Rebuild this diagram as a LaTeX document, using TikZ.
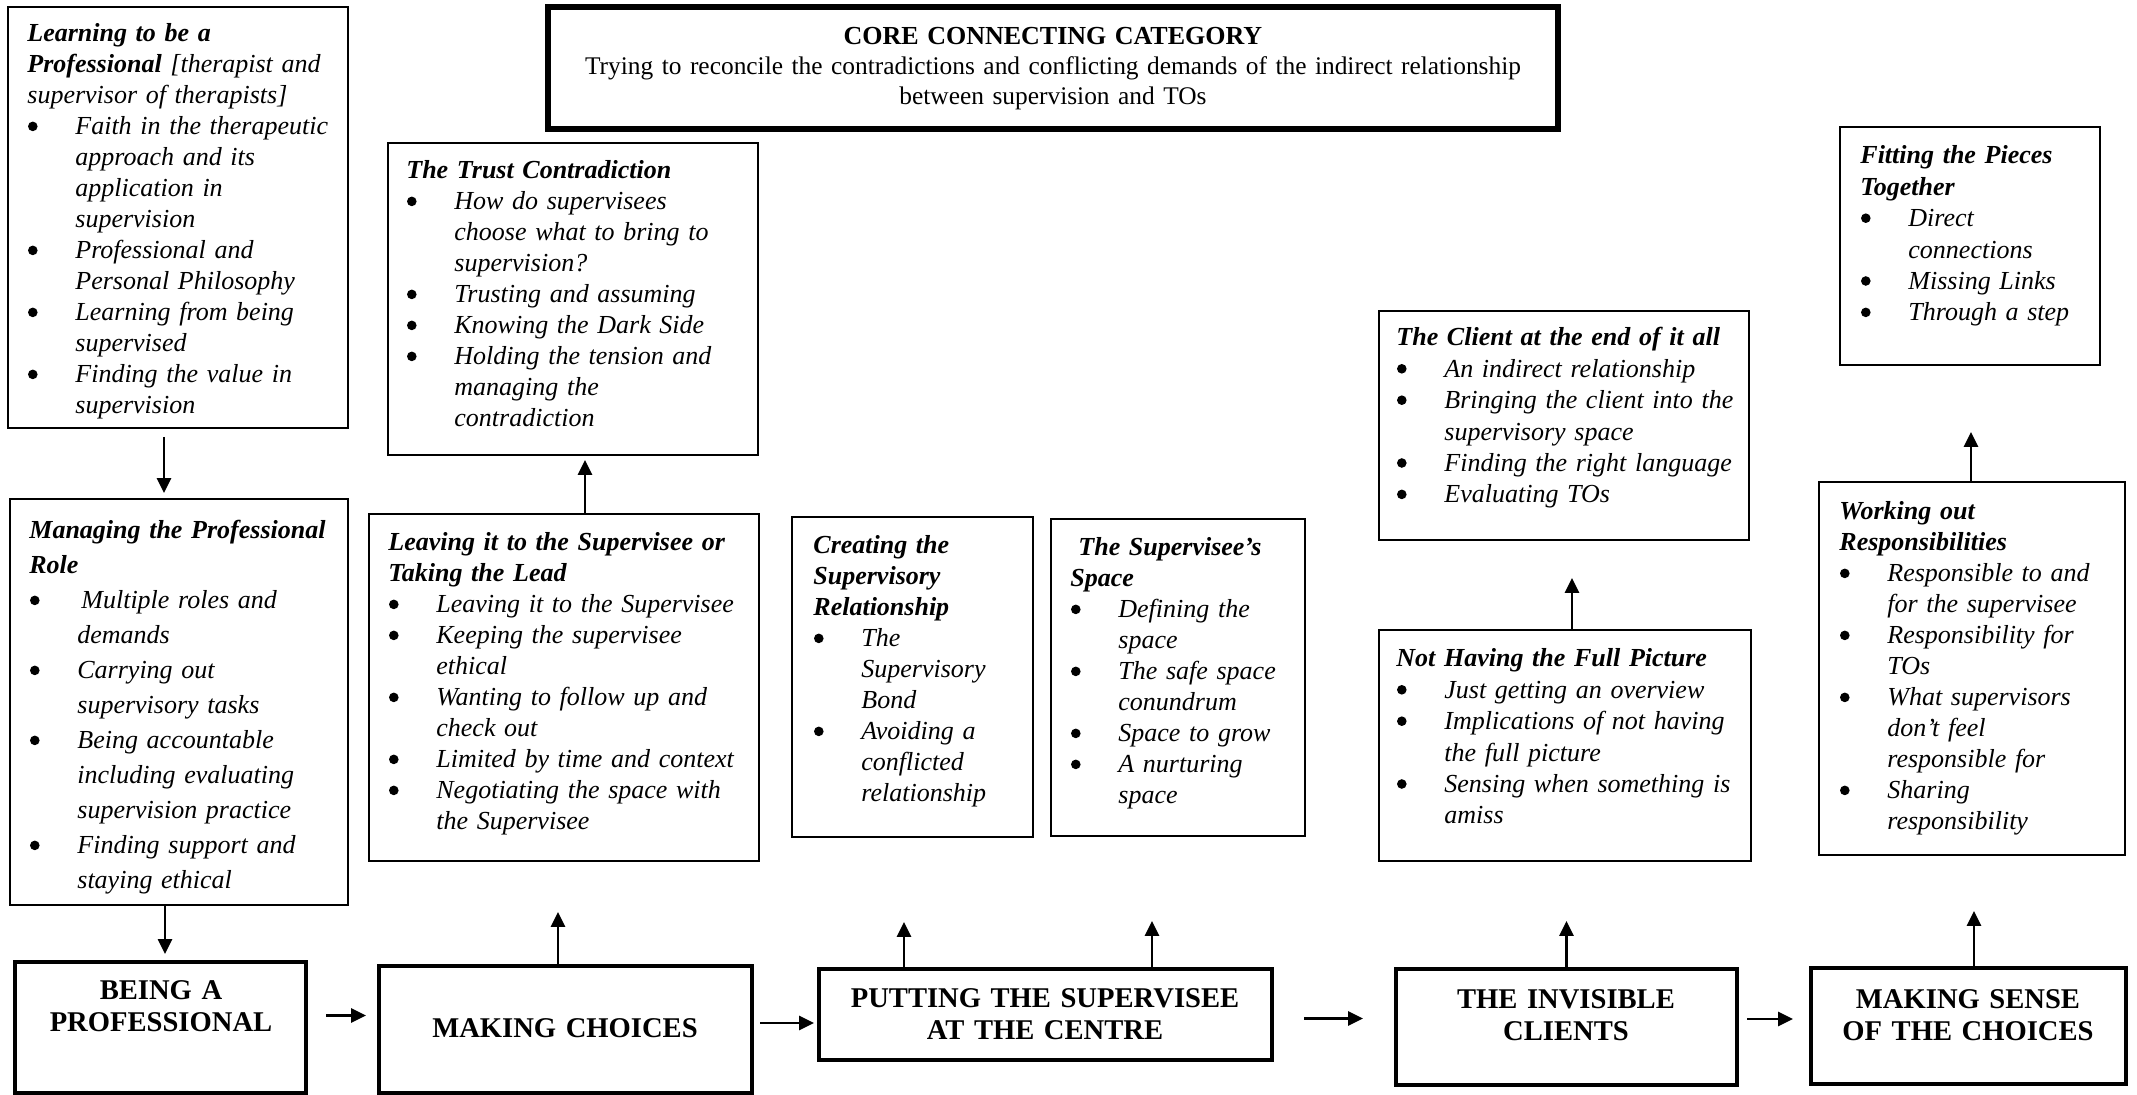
\documentclass[tikz,border=0pt]{standalone}
\usepackage{fontspec}
\setmainfont{Liberation Serif}
\usetikzlibrary{fit,arrows.meta}

% round list marker, drawn as a filled dot sitting at mid x-height
\newcommand\dotmark{\tikz[baseline={(0pt,-4.3pt)}]\fill (0pt,0pt) circle (2.4pt);}
% bullet and continuation indents for the category lists
\newcommand\bul{\hspace*{0.3pt}\makebox[23.7pt][l]{\dotmark}}
\newcommand\cnt{\hspace*{24pt}}

\tikzset{
  thinbox/.style={draw, line width=0.9pt, inner sep=0pt},
  thickbox/.style={draw, line width=2pt, inner sep=0pt},
  corebox/.style={draw, line width=2.6pt, inner sep=0pt},
  listtext/.style={inner sep=0pt, anchor=base west, align=left,
    font=\fontsize{13}{15.5}\selectfont\itshape},
  widelist/.style={listtext, font=\fontsize{13}{15.7}\selectfont\itshape},
  stagetext/.style={inner sep=0pt, anchor=base, align=center,
    font=\fontsize{14.3}{16.2}\selectfont\bfseries},
  arr/.style={line width=1.3pt, -{Triangle[length=7.5pt,width=7pt]}}
}

\begin{document}
\begin{tikzpicture}[x=0.5pt,y=-0.5pt]
\useasboundingbox (0,0) rectangle (2137,1095);

% ---------- boxes ----------
\node[thinbox, fit={(8,7)(348,428)}] (learn) {};
\node[thinbox, fit={(10,499)(348,905)}] (manage) {};
\node[thickbox, fit={(15,962)(306,1093)}] (being) {};

\node[corebox, fit={(548,7)(1558,129)}] (core) {};

\node[thinbox, fit={(388,143)(758,455)}] (trust) {};
\node[thinbox, fit={(369,514)(759,861)}] (leaving) {};
\node[thickbox, fit={(379,966)(752,1093)}] (making) {};

\node[thinbox, fit={(792,517)(1033,837)}] (creating) {};
\node[thinbox, fit={(1051,519)(1305,836)}] (svspace) {};
\node[thickbox, fit={(819,969)(1272,1060)}] (putting) {};

\node[thinbox, fit={(1379,311)(1749,540)}] (client) {};
\node[thinbox, fit={(1379,630)(1751,861)}] (nothaving) {};
\node[thickbox, fit={(1396,969)(1737,1085)}] (invisible) {};

\node[thinbox, fit={(1840,127)(2100,365)}] (fitting) {};
\node[thinbox, fit={(1819,482)(2125,855)}] (working) {};
\node[thickbox, fit={(1811,968)(2126,1084)}] (sense) {};

% ---------- core category ----------
\node[inner sep=0pt, anchor=base, align=center, text width=500pt,
      font=\fontsize{12.7}{15}\selectfont] (coreT) at (1053,45)
  {{\fontsize{13}{15}\selectfont\bfseries CORE CONNECTING CATEGORY}\\
   Trying to reconcile the contradictions and conflicting demands of the indirect relationship\\
   between supervision and TOs};

% ---------- category lists ----------
\node[listtext, text width=160pt] (learnT) at (27,42)
  {{\bfseries Learning to be a}\\
   {\bfseries Professional} [therapist and\\
   supervisor of therapists]\\
   \bul Faith in the therapeutic\\
   \cnt approach and its\\
   \cnt application in\\
   \cnt supervision\\
   \bul Professional and\\
   \cnt Personal Philosophy\\
   \bul Learning from being\\
   \cnt supervised\\
   \bul Finding the value in\\
   \cnt supervision};

\node[listtext, text width=159pt, font=\fontsize{13}{17.5}\selectfont\itshape] (manageT) at (29,539)
  {{\bfseries Managing the Professional}\\
   {\bfseries Role}\\
   \bul \hspace*{2pt}Multiple roles and\\
   \cnt demands\\
   \bul Carrying out\\
   \cnt supervisory tasks\\
   \bul Being accountable\\
   \cnt including evaluating\\
   \cnt supervision practice\\
   \bul Finding support and\\
   \cnt staying ethical};

\node[listtext, text width=175pt] (trustT) at (406,179)
  {{\bfseries The Trust Contradiction}\\
   \bul How do supervisees\\
   \cnt choose what to bring to\\
   \cnt supervision?\\
   \bul Trusting and assuming\\
   \bul Knowing the Dark Side\\
   \bul Holding the tension and\\
   \cnt managing the\\
   \cnt contradiction};

\node[listtext, text width=185pt] (leavingT) at (388,551)
  {{\bfseries Leaving it to the Supervisee or}\\
   {\bfseries Taking the Lead}\\
   \bul Leaving it to the Supervisee\\
   \bul Keeping the supervisee\\
   \cnt ethical\\
   \bul Wanting to follow up and\\
   \cnt check out\\
   \bul Limited by time and context\\
   \bul Negotiating the space with\\
   \cnt the Supervisee};

\node[listtext, text width=110pt] (creatingT) at (813,554)
  {{\bfseries Creating the}\\
   {\bfseries Supervisory}\\
   {\bfseries Relationship}\\
   \bul The\\
   \cnt Supervisory\\
   \cnt Bond\\
   \bul Avoiding a\\
   \cnt conflicted\\
   \cnt relationship};

\node[listtext, text width=117pt] (svspaceT) at (1070,556)
  {{\bfseries \hspace*{4pt}The Supervisee’s}\\
   {\bfseries Space}\\
   \bul Defining the\\
   \cnt space\\
   \bul The safe space\\
   \cnt conundrum\\
   \bul Space to grow\\
   \bul A nurturing\\
   \cnt space};

\node[widelist, text width=177pt] (clientT) at (1396,346)
  {{\bfseries The Client at the end of it all}\\
   \bul An indirect relationship\\
   \bul Bringing the client into the\\
   \cnt supervisory space\\
   \bul Finding the right language\\
   \bul Evaluating TOs};

\node[widelist, text width=178pt] (nothavingT) at (1396,667)
  {{\bfseries Not Having the Full Picture}\\
   \bul Just getting an overview\\
   \bul Implications of not having\\
   \cnt the full picture\\
   \bul Sensing when something is\\
   \cnt amiss};

\node[listtext, text width=143pt] (workingT) at (1839,520)
  {{\bfseries Working out}\\
   {\bfseries Responsibilities}\\
   \bul Responsible to and\\
   \cnt for the supervisee\\
   \bul Responsibility for\\
   \cnt TOs\\
   \bul What supervisors\\
   \cnt don’t feel\\
   \cnt responsible for\\
   \bul Sharing\\
   \cnt responsibility};

\node[widelist, text width=120pt] (fittingT) at (1860,164)
  {{\bfseries Fitting the Pieces}\\
   {\bfseries Together}\\
   \bul Direct\\
   \cnt connections\\
   \bul Missing Links\\
   \bul Through a step};

% ---------- stage labels ----------
\node[stagetext, text width=140pt] (beingT) at (161,999) {BEING A\\PROFESSIONAL};
\node[stagetext, text width=180pt] (makingT) at (565,1037) {MAKING CHOICES};
\node[stagetext, text width=215pt] (puttingT) at (1045,1007) {PUTTING THE SUPERVISEE\\AT THE CENTRE};
\node[stagetext, text width=165pt] (invisibleT) at (1566,1008) {THE INVISIBLE\\CLIENTS};
\node[stagetext, text width=155pt] (senseT) at (1968,1008) {MAKING SENSE\\OF THE CHOICES};

% ---------- connectors ----------
\draw[arr, shorten <=4pt, shorten >=2.5pt]
  ([xshift=-7pt]learn.south) -- ([xshift=-7pt]learn.south |- manage.north);
\draw[arr, shorten >=3pt]
  ([xshift=-7pt]manage.south) -- ([xshift=-7pt]manage.south |- being.north);
\draw[arr, shorten <=9pt, shorten >=5.5pt]
  ([yshift=6pt]being.east) -- ([yshift=6pt]being.east -| making.west);

\draw[arr, shorten >=25pt]
  ([xshift=-3.75pt]making.north) -- ([xshift=-3.75pt]making.north |- leaving.south);
\draw[arr, shorten >=2pt]
  ([xshift=6pt]trust.south |- leaving.north) -- ([xshift=6pt]trust.south);
\draw[arr, shorten <=3pt, shorten >=1.5pt]
  ([yshift=3.25pt]making.east) -- ([yshift=3.25pt]making.east -| putting.west);

\draw[arr, shorten >=42pt]
  ([xshift=-70.75pt]putting.north) -- ([xshift=-70.75pt]putting.north |- creating.south);
\draw[arr, shorten >=42pt]
  ([xshift=53.25pt]putting.north) -- ([xshift=53.25pt]putting.north |- svspace.south);
\draw[arr, shorten <=15pt, shorten >=15.5pt]
  ([yshift=-2pt]putting.east) -- ([yshift=-2pt]putting.east -| invisible.west);

\draw[arr, shorten >=29.5pt]
  (invisible.north) -- (invisible.north |- nothaving.south);
\draw[arr, shorten >=18.5pt]
  ([xshift=4pt]client.south |- nothaving.north) -- ([xshift=4pt]client.south);
\draw[arr, shorten <=4pt, shorten >=8pt]
  ([yshift=4pt]invisible.east) -- ([yshift=4pt]invisible.east -| sense.west);

\draw[arr, shorten >=27.5pt]
  ([xshift=2.75pt]sense.north) -- ([xshift=2.75pt]sense.north |- working.south);
\draw[arr, shorten >=33pt]
  ([xshift=-0.5pt]working.north) -- ([xshift=-0.5pt]working.north |- fitting.south);
\end{tikzpicture}
\end{document}
